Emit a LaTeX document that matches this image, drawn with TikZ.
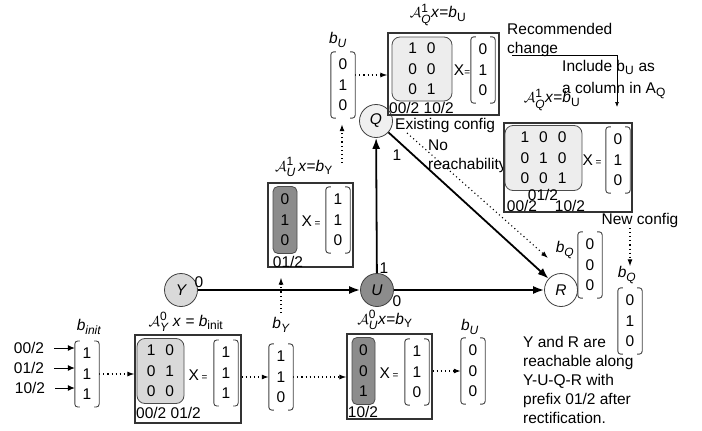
\documentclass[tikz,border=0pt]{standalone}
\usepackage{fontspec}
\setmainfont{Liberation Sans}
\usepackage{amsmath}
\usetikzlibrary{arrows.meta}
\DeclareMathSizes{15.5}{15.5}{12}{9}

\begin{document}
\begin{tikzpicture}[x=1pt,y=-1pt,
  every node/.style={font=\fontsize{15.5}{19}\selectfont,inner sep=0pt},
  st/.style={circle,draw=black!75,line width=0.8pt,minimum size=33pt,font=\fontsize{15.5}{19}\selectfont\itshape},
  edge/.style={-{Latex[length=11pt,width=8pt]},line width=1.8pt},
  dotarr/.style={-{Latex[length=7pt,width=5pt]},line width=1.1pt,dash pattern=on 1.1pt off 3pt},
  thinarr/.style={-{Latex[length=5pt,width=4pt]},line width=0.7pt},
  inarr/.style={-{Latex[length=7pt,width=6pt]},line width=1pt},
  eqbox/.style={draw=black!80,line width=1.2pt},
  mat/.style={draw=black!70,line width=0.8pt,rounded corners=8pt,align=center,font=\fontsize{15.5}{20.5}\selectfont},
  vec/.style={align=center,minimum width=24pt,inner ysep=7pt,font=\fontsize{15.5}{20.5}\selectfont},
  brk/.style={draw=black!75,line width=0.9pt,rounded corners=3pt}
]
\useasboundingbox (0,0) rectangle (702,431);

% states
\node[st,fill=black!15] (Y) at (181,290) {Y};
\node[st,fill=black!45] (U) at (377,290) {U};
\node[st,fill=black!6] (Q) at (376,121) {Q};
\node[st,fill=white] (R) at (561,290) {R};

\draw[edge] (Y) -- (U);
\draw[edge] (U) -- (Q);
\draw[edge] (U) -- (R);
\draw[edge] (Q) -- (R);

\node (eY) at (199,282) {0};
\node (eU1) at (384,268) {1};
\node (eU0) at (397,301) {0};
\node (eQ) at (397,155) {1};

% input vector
\node[vec] (vBinit) at (87,374) {1\\1\\1};
\node (biLbl) at (89,327) {\textit{b}$_{\textit{init}}$};
\node (in1) at (29,348) {00/2};
\node (in2) at (29,368) {01/2};
\node (in3) at (30,388) {10/2};
\foreach \i in {1,2,3}
  \draw[inarr,shorten <=10pt] (in\i.east) -- (in\i.east -| vBinit.west);

% A_Y^0 box
\node[eqbox,minimum width=106pt,minimum height=88pt] (ayBox) at (188,379) {};
\node[mat,fill=black!15,minimum width=47pt,minimum height=65pt] (ayMat) at (160.5,371) {1\hspace{10pt}0\\0\hspace{10pt}1\\0\hspace{10pt}0};
\node (ayX) at (198,375) {X\,{\fontsize{10}{10}\selectfont =}};
\node[vec] (vAY) at (226,373) {1\\1\\1};
\node[anchor=west] (ayCol) at (136,413) {00/2 01/2};
\node (ayLbl) at (186,322) {$\mathcal{A}^{\text{0}}_{\textit{Y}}$ \textit{x} = \textit{b}$_{\text{init}}$};
\draw[dotarr] (vBinit.east) -- (vBinit.east -| ayBox.west);

% b_Y
\node[vec] (vBY) at (281,377) {1\\1\\0};
\node (byLbl) at (281,325) {\textit{b}$_{\textit{Y}}$};
\draw[dotarr] (vBY.west -| ayBox.east) -- (vBY.west);

% A_U^0 box
\node[eqbox,minimum width=85pt,minimum height=85pt] (au0Box) at (389.5,376.5) {};
\node[mat,fill=black!45,rounded corners=5pt,minimum width=23pt,minimum height=67pt] (au0Mat) at (363.5,371) {0\\0\\1};
\node (au0X) at (389,373) {X\,{\fontsize{10}{10}\selectfont =}};
\node[vec] (vAU0) at (417,372) {1\\1\\0};
\node (au0Col) at (363,412) {10/2};
\node (au0Lbl) at (385,320) {$\mathcal{A}^{\text{0}}_{\textit{U}}$\textit{x}=\textit{b}$_{\text{Y}}$};
\draw[dotarr] (vBY.east) -- (vBY.east -| au0Box.west);

% b_U below
\node[vec] (vBU) at (473,371) {0\\0\\0};
\node (buLbl) at (470,327) {\textit{b}$_{\textit{U}}$};
\draw[dotarr] (vBU.west -| au0Box.east) -- (vBU.west);

% A_U^1 box
\node[eqbox,minimum width=85pt,minimum height=84pt] (au1Box) at (310.5,225) {};
\node[mat,fill=black!45,rounded corners=5pt,minimum width=24pt,minimum height=67pt] (au1Mat) at (285,220) {0\\1\\0};
\node (au1X) at (311,221) {X\,{\fontsize{10}{10}\selectfont =}};
\node[vec] (vAU1) at (338,220) {1\\1\\0};
\node (au1Col) at (288,262) {01/2};
\node (au1Lbl) at (304,167) {$\mathcal{A}^{\text{1}}_{\textit{U}}$\,\textit{x}=\textit{b}$_{\text{Y}}$};
\coordinate (d2) at (281,313);
\draw[dotarr,shorten >=10pt] (d2) -- (d2 |- au1Box.south);

% b_U above
\node[vec] (vBU1) at (343,85) {0\\1\\0};
\node (bu1Lbl) at (338,40) {\textit{b}$_{\textit{U}}$};
\coordinate (d1) at (342,163);
\draw[dotarr,shorten >=6pt] (d1) -- (d1 |- vBU1.south);

% A_Q^1 existing box
\node[eqbox,minimum width=111pt,minimum height=82pt] (qBox) at (443.5,74) {};
\node[mat,fill=black!7,minimum width=60pt,minimum height=64pt] (qMat) at (422,69) {1\hspace{10pt}0\\0\hspace{10pt}0\\0\hspace{10pt}1};
\node (qX) at (462,70) {X{\fontsize{10}{10}\selectfont =}};
\node[vec] (vAQ) at (483,70) {0\\1\\0};
\node[anchor=west] (qCol) at (389,108) {00/2 10/2};
\node (qLbl) at (438,15) {$\mathcal{A}^{\text{1}}_{\textit{Q}}$\textit{x}=\textit{b}$_{\text{U}}$};
\coordinate (qa) at ([yshift=10pt]vBU1.east);
\draw[dotarr] (qa) -- (qa -| qBox.west);

\node[anchor=base west] (exist) at (395,129) {Existing config};
\node[anchor=north west,align=left] (noreach) at (428,139.5) {No\\reachability};
\coordinate (nr0) at (407,133);
\coordinate (nr1) at (548,258);
\draw[dotarr] (nr0) -- (nr1);

% A_Q^1 new box
\node[eqbox,minimum width=128pt,minimum height=89pt] (nqBox) at (568,167.5) {};
\node[mat,fill=black!7,minimum width=77pt,minimum height=65pt] (nqMat) at (543.5,158) {1\hspace{10pt}0\hspace{10pt}0\\0\hspace{10pt}1\hspace{10pt}0\\0\hspace{10pt}0\hspace{10pt}1};
\node (nqX) at (592,160) {X\,{\fontsize{10}{10}\selectfont =}};
\node[vec] (vAQ1) at (618,160) {0\\1\\0};
\node (nqC1) at (543,195) {01/2};
\node (nqC2) at (522,206) {00/2};
\node (nqC3) at (570,206) {10/2};
\node (nqLbl) at (552,100) {$\mathcal{A}^{\text{1}}_{\textit{Q}}$\textit{x}=\textit{b}$_{\text{U}}$};

% recommended change
\node[anchor=north west,align=left] (rec) at (507,23) {Recommended\\change};
\coordinate (rc0) at (512,55);
\coordinate (rc1) at (617,107);
\draw[thinarr] (rc0) -| (rc1);
\node[anchor=north west,align=left] (incl) at (562,60) {Include b$_{\text{U}}$ as\\[3pt]a column in A$_{\text{Q}}$};

% b_Q vectors
\node[vec] (vBQ) at (590,265) {0\\0\\0};
\node (bqLbl) at (565,250) {\textit{b}$_{\textit{Q}}$};
\node[vec] (vBQ2) at (630,321) {0\\1\\0};
\node (bq2Lbl) at (627,275) {\textit{b}$_{\textit{Q}}$};
\node[anchor=base] (newcfg) at (640,224) {New config};
\coordinate (d3) at (630,228);
\draw[dotarr] (d3) -- (d3 |- bq2Lbl.north);

\node[anchor=north west,align=left] (note) at (523,336) {Y and R are\\reachable along\\Y-U-Q-R with\\prefix 01/2 after\\rectification.};

% brackets
\foreach \v in {vBinit,vAY,vBY,vAU0,vBU,vAU1,vBU1,vAQ,vAQ1,vBQ,vBQ2}{
  \draw[brk] ([xshift=5pt]\v.north west) -- (\v.north west) -- (\v.south west) -- ([xshift=5pt]\v.south west);
  \draw[brk] ([xshift=-5pt]\v.north east) -- (\v.north east) -- (\v.south east) -- ([xshift=-5pt]\v.south east);
}
\end{tikzpicture}
\end{document}
